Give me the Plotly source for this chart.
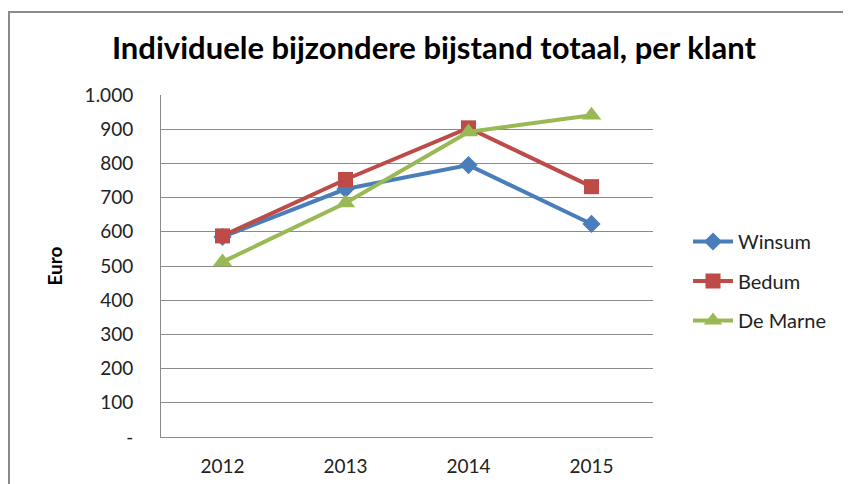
import plotly.graph_objects as go

years = ["2012", "2013", "2014", "2015"]
winsum = [585, 725, 795, 623]
bedum = [588, 753, 904, 732]
de_marne = [512, 684, 892, 941]
y_ticks = [0, 100, 200, 300, 400, 500, 600, 700, 800, 900, 1000]
y_tick_labels = ["-", "100", "200", "300", "400", "500", "600", "700", "800", "900", "1.000"]

series = [
    ("Winsum", winsum, "#4A7EBB", "diamond", 14),
    ("Bedum", bedum, "#BE4B48", "square", 15),
    ("De Marne", de_marne, "#98B954", "triangle-up", 17),
]

# the page shows the figure with an 8px offset; compensate
OFF = 8
W, H = 851, 484
PL, PR, PT, PB = 161 - OFF, 653 - OFF, 95 - OFF, 437 - OFF
pw, ph = PR - PL, PB - PT

fig = go.Figure()
for i, (name, vals, color, sym, size) in enumerate(series):
    fig.add_trace(go.Scatter(
        x=years, y=vals, name=name, mode="lines+markers",
        line=dict(color=color, width=4),
        marker=dict(symbol=sym, size=size, color=color),
        legendgroup=str(i),
    ))

fig.update_layout(
    width=W, height=H,
    margin=dict(l=PL, r=W - PR, t=PT, b=H - PB, autoexpand=False),
    paper_bgcolor="white", plot_bgcolor="white",
    font=dict(family="Lato, 'Open Sans', sans-serif", color="#222222"),
    title=dict(text="<b>Individuele bijzondere bijstand totaal, per klant</b>",
               x=(434 - OFF) / W, xanchor="center", y=1 - (48 - OFF) / H, yanchor="middle",
               font=dict(size=31, color="#000000")),
    showlegend=True,
    legend=dict(x=(688 - 161) / pw, y=(PB - (222 - OFF)) / ph, xanchor="left", yanchor="top",
                font=dict(size=20, color="#222222"),
                traceorder="grouped", tracegroupgap=10.5, itemwidth=40,
                bgcolor="rgba(0,0,0,0)"),
    shapes=[dict(type="rect", xref="paper", yref="paper",
                 x0=(1 - PL) / pw, x1=(900 - 161) / pw,
                 y0=(437 - 520) / ph, y1=(437 - 12) / ph,
                 line=dict(color="#8a8a8a", width=2), layer="below")],
)

fig.update_xaxes(type="category", range=[-0.5, 3.5], showgrid=False,
                 showline=True, linecolor="#8a8a8a", linewidth=1,
                 tickfont=dict(size=19), ticks="", ticklabelstandoff=12)
fig.update_yaxes(range=[0, 1000], tickvals=y_ticks, ticktext=y_tick_labels,
                 showgrid=True, gridcolor="#8a8a8a", gridwidth=1,
                 showline=True, linecolor="#8a8a8a", linewidth=1,
                 zeroline=False, tickfont=dict(size=19), ticks="",
                 ticklabelstandoff=23,
                 title=dict(text="<b>Euro</b>", font=dict(size=19, color="#000000"),
                            standoff=16))

fig.write_html("out.html")
